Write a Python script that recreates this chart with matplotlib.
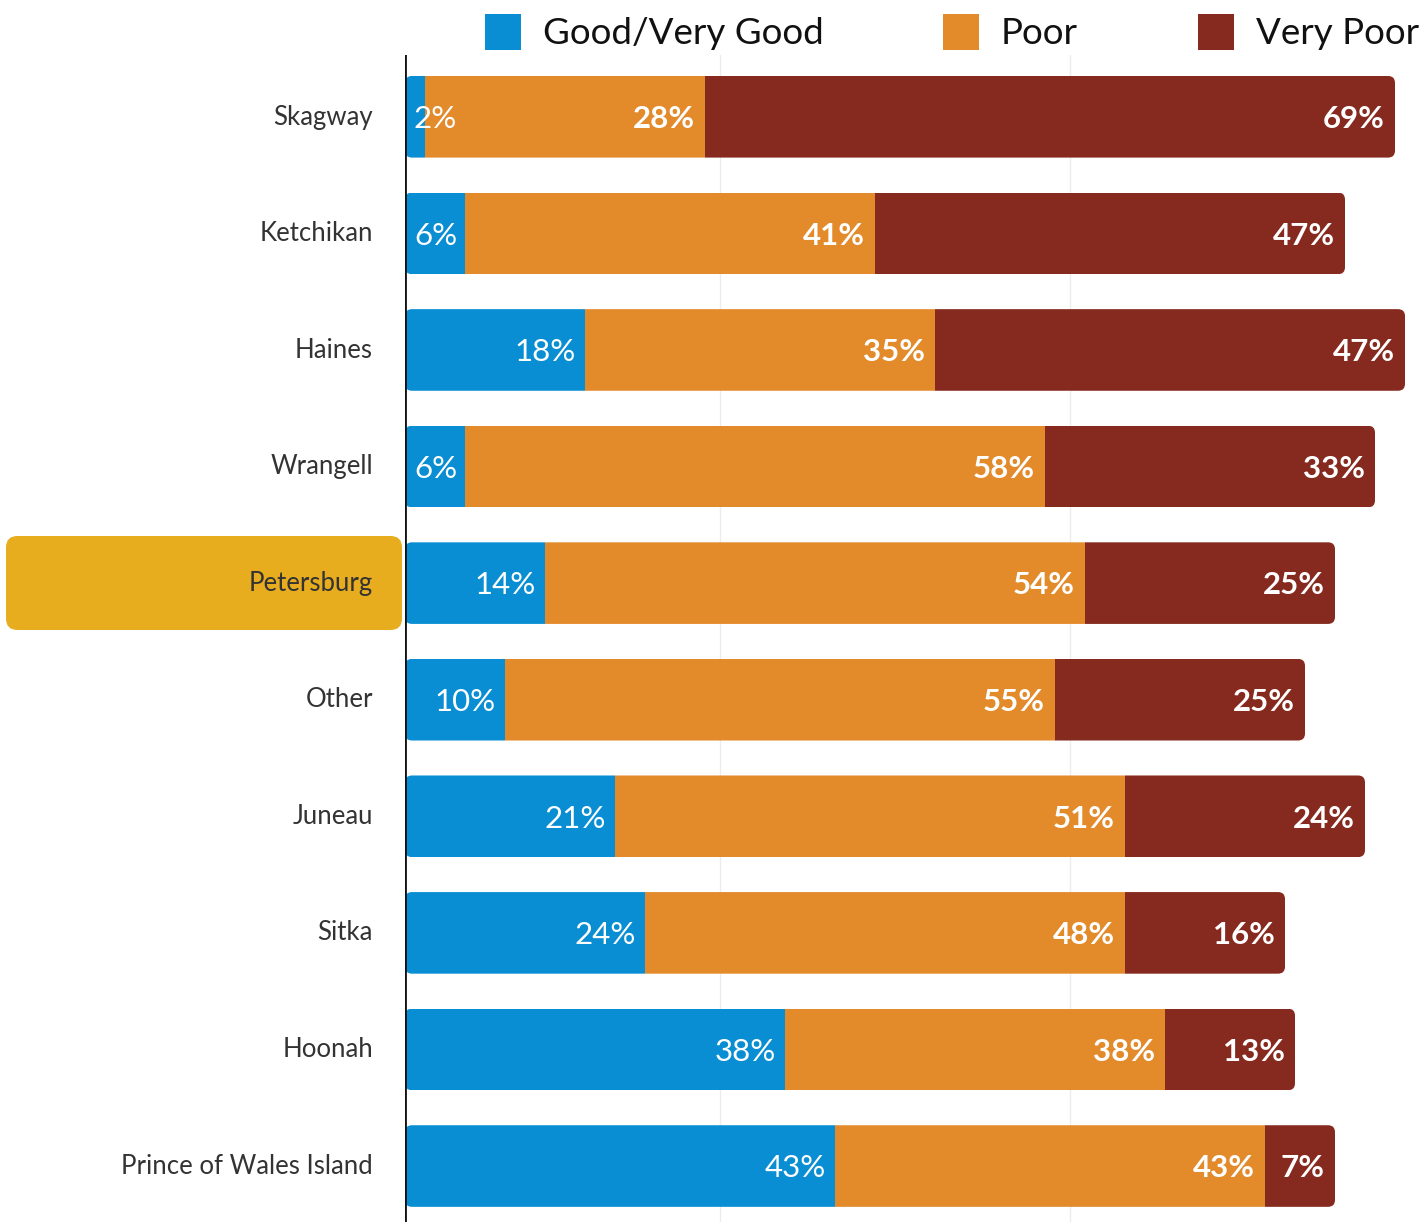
import matplotlib
matplotlib.use("Agg")
import matplotlib.pyplot as plt
from matplotlib.patches import FancyBboxPatch, Rectangle

categories = ["Skagway", "Ketchikan", "Haines", "Wrangell", "Petersburg",
              "Other", "Juneau", "Sitka", "Hoonah", "Prince of Wales Island"]
good = [2, 6, 18, 6, 14, 10, 21, 24, 38, 43]
poor = [28, 41, 35, 58, 54, 55, 51, 48, 38, 43]
very_poor = [69, 47, 47, 33, 25, 25, 24, 16, 13, 7]
series_names = ["Good/Very Good", "Poor", "Very Poor"]
highlight = "Petersburg"

C_GOOD = "#0A8ED3"
C_POOR = "#E38A2B"
C_VPOOR = "#862A1F"
C_HL = "#E8AD1E"

W, H = 1422, 1222
fig = plt.figure(figsize=(W / 100, H / 100), dpi=100)
ax = fig.add_axes([405 / W, 0, 1 - 405 / W, 1167 / H])
ax.set_xlim(0, 101.7)
ax.set_ylim(9.48, -0.53)
ax.axis("off")

for gx in [31.5, 66.5]:
    ax.axvline(gx, color="#ececec", lw=1, zorder=0)
ax.axvline(0, color="#111111", lw=2, zorder=5)

bar_h = 0.70
series = [good, poor, very_poor]
colors = [C_GOOD, C_POOR, C_VPOOR]
for i, cat in enumerate(categories):
    total = good[i] + poor[i] + very_poor[i]
    clip = FancyBboxPatch((0, i - bar_h / 2), total, bar_h,
                          boxstyle="round,pad=0,rounding_size=0.7",
                          mutation_aspect=0.085, transform=ax.transData,
                          facecolor="none", edgecolor="none")
    ax.add_patch(clip)
    left = 0
    for s, (vals, col) in enumerate(zip(series, colors)):
        v = vals[i]
        bars = ax.barh(i, v, left=left, height=bar_h, color=col,
                       edgecolor="none", zorder=2)
        for b in bars:
            b.set_clip_path(clip)
        end = left + v
        if s == 0:
            xt = max(end - 0.9, 5.2)
            ax.text(xt, i + 0.02, f"{v}%", ha="right", va="center",
                    color="white", fontsize=22.5, family="Lato",
                    fontweight="normal", zorder=4)
        else:
            ax.text(end - 1.0, i + 0.02, f"{v}%", ha="right", va="center",
                    color="white", fontsize=22.5, family="Lato",
                    fontweight="bold", zorder=4)
        left = end

# Category labels
for i, cat in enumerate(categories):
    ycen = 117 + i * 116.56
    if cat == highlight:
        box = FancyBboxPatch((6 / W, 1 - 630 / H), 396 / W, 94 / H,
                             boxstyle="round,pad=0,rounding_size=0.008",
                             transform=fig.transFigure, facecolor=C_HL,
                             edgecolor="none", mutation_aspect=W / H)
        fig.patches.append(box)
    fig.text(373 / W, 1 - ycen / H, cat, ha="right", va="center",
             fontsize=18.5, family="Lato", color="#333333")

# Legend
leg_sq_x = [485, 943, 1198]
leg_tx_x = [543, 1001, 1256]
for name, col, sx, tx in zip(series_names, colors, leg_sq_x, leg_tx_x):
    fig.patches.append(Rectangle((sx / W, 1 - 50 / H), 36 / W, 36 / H,
                                 transform=fig.transFigure, facecolor=col,
                                 edgecolor="none"))
    fig.text(tx / W, 1 - 33 / H, name, ha="left", va="center",
             fontsize=26.5, family="Lato", fontweight="normal",
             color="#111111")

fig.savefig("out.png", dpi=100)
